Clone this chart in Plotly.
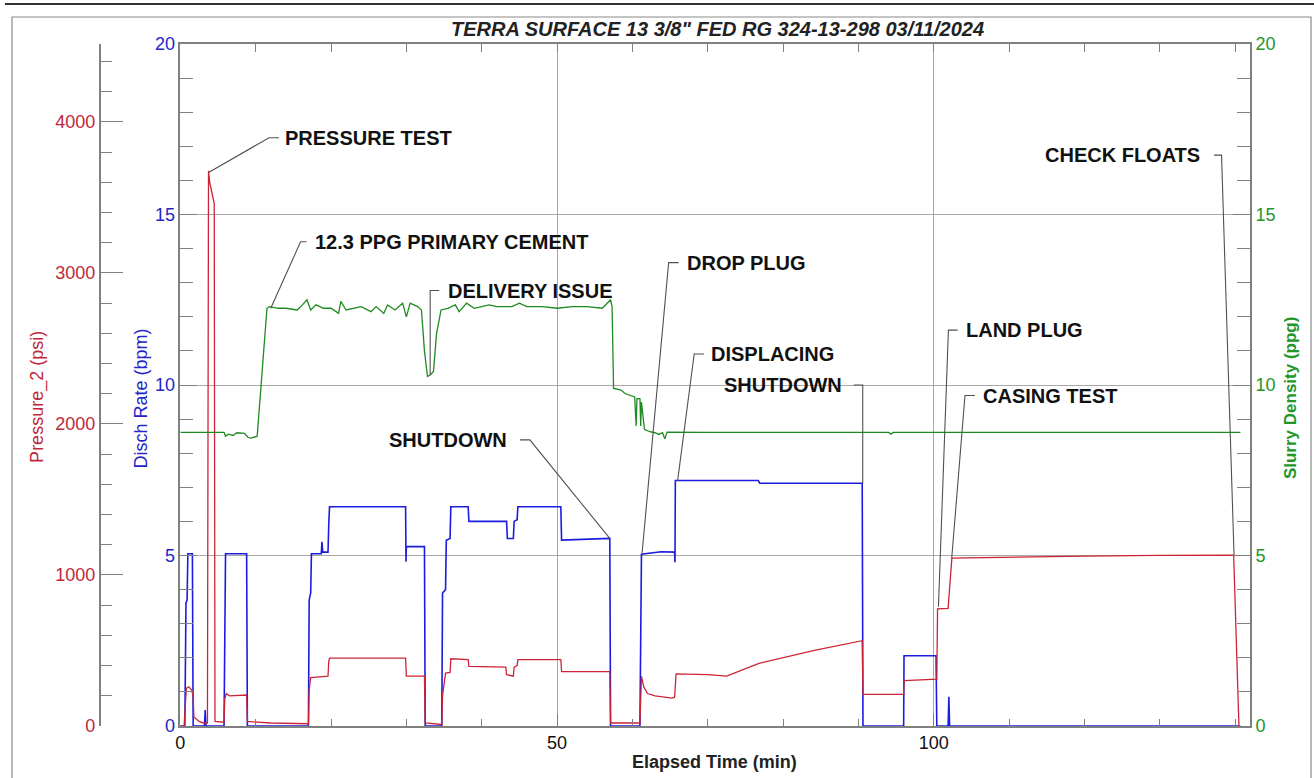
import plotly.graph_objects as go

# ---------------- data ----------------
rate_t = [0, 0.6, 0.75, 0.9, 1.0, 1.6, 1.7, 3.2, 3.3, 3.4, 5.8, 5.9, 6.0, 8.8, 8.9,
          17.0, 17.1, 17.3, 17.4, 18.7, 18.8, 18.9, 19.6, 19.7, 19.8, 29.9, 29.95, 30.0,
          32.4, 32.5, 34.7, 34.8, 35.2, 35.3, 35.8, 35.9, 38.2, 38.3, 43.3, 43.4, 44.2,
          44.3, 44.7, 44.8, 50.5, 50.6, 57.0, 57.1, 61.0, 61.2, 63.8, 65.6, 65.65, 65.7,
          76.7, 76.9, 90.5, 90.6, 96.0, 96.05, 100.3, 100.4, 101.9, 102.0, 102.1, 140.7]
rate_v = [0, 0, 3.6, 3.7, 5.05, 5.05, 0, 0, 0.47, 0, 0, 4.9, 5.05, 5.05, 0,
          0, 3.7, 3.9, 5.05, 5.05, 5.4, 5.1, 5.1, 5.9, 6.43, 6.43, 4.82, 5.26,
          5.26, 0, 0, 3.9, 4.0, 5.45, 5.5, 6.43, 6.43, 6.0, 6.0, 5.5, 5.5,
          6.0, 6.05, 6.43, 6.43, 5.45, 5.5, 0, 0, 5.04, 5.11, 5.1, 4.8, 7.2,
          7.2, 7.12, 7.12, 0, 0, 2.06, 2.06, 0, 0, 0.86, 0, 0]

press_t = [0, 0.5, 0.8, 1.1, 1.5, 1.7, 1.8, 2.5, 3.3, 3.6, 3.74, 3.9, 4.4, 4.5, 4.6,
           5.8, 5.9, 6.1, 6.5, 8.8, 8.9, 12.0, 17.0, 17.1, 17.3, 19.6, 19.7, 19.8, 29.9,
           30.0, 32.4, 32.5, 34.7, 34.8, 35.2, 35.8, 35.9, 38.2, 38.3, 43.2, 43.3, 44.2,
           44.3, 44.7, 44.8, 50.5, 50.6, 57.0, 57.1, 61.0, 61.2, 61.5, 62.0, 63.0, 65.3,
           65.6, 65.8, 70.0, 72.5, 76.8, 84.3, 90.5, 90.6, 96.0, 96.05, 100.4, 100.5,
           101.9, 102.4, 110.0, 120.0, 130.0, 139.8, 140.5]
press_v = [0, 0, 250, 260, 240, 200, 60, 30, 15, 20, 3677, 3600, 3483, 3460, 30,
           25, 180, 215, 200, 205, 30, 20, 15, 240, 320, 330, 430, 450, 450,
           330, 330, 20, 10, 200, 350, 355, 445, 440, 395, 390, 340, 330,
           390, 400, 440, 440, 360, 360, 20, 20, 330, 260, 215, 200, 185,
           190, 345, 340, 330, 415, 503, 565, 210, 210, 300, 310, 775,
           779, 1111, 1118, 1125, 1130, 1132, 0]

dens_t = [0, 5.8, 6.0, 6.4, 7.0, 7.5, 8.5, 9.0, 9.4, 10.2, 11.5, 11.8, 13.0, 14.0,
          15.5, 16.0, 16.8, 17.3, 18.0, 19.0, 20.0, 21.0, 21.3, 22.0, 24.0, 25.3, 26.0,
          27.0, 27.5, 28.5, 29.5, 30.0, 30.5, 31.5, 32.0, 32.4, 32.8, 33.2, 33.6, 34.0,
          34.6, 35.5, 36.5, 37.0, 38.0, 39.0, 41.0, 42.0, 44.0, 45.0, 46.0, 48.0, 50.0,
          52.0, 54.0, 56.0, 57.1, 57.3, 57.5, 58.5, 59.0, 59.8, 60.3, 60.5, 60.6, 61.0,
          61.1, 61.2, 61.6, 62.3, 63.0, 63.5, 64.0, 64.3, 64.6, 70.0, 94.0, 94.3, 94.6,
          140.7]
dens_v = [8.61, 8.61, 8.5, 8.56, 8.52, 8.6, 8.58, 8.46, 8.44, 8.5, 12.25, 12.3, 12.25, 12.25,
          12.2, 12.3, 12.5, 12.2, 12.35, 12.25, 12.25, 12.1, 12.45, 12.2, 12.3, 12.15, 12.3,
          12.1, 12.35, 12.2, 12.4, 12.0, 12.4, 12.3, 12.2, 11.0, 10.25, 10.3, 10.4, 11.5,
          12.2, 12.25, 12.35, 12.15, 12.4, 12.25, 12.35, 12.3, 12.3, 12.4, 12.3, 12.3, 12.25,
          12.3, 12.3, 12.25, 12.5, 12.3, 9.9, 9.85, 9.75, 9.7, 9.65, 8.8, 9.6, 9.6,
          8.8, 9.5, 8.7, 8.63, 8.6, 8.55, 8.6, 8.42, 8.62, 8.61, 8.61, 8.56, 8.61,
          8.61]

# event labels: text, point (t, rate-units), elbow (t, rate-units), stub end t, text x, anchor
ev_text = ["PRESSURE TEST", "12.3 PPG PRIMARY CEMENT", "DELIVERY ISSUE", "SHUTDOWN",
           "DROP PLUG", "DISPLACING", "SHUTDOWN", "LAND PLUG", "CASING TEST", "CHECK FLOATS"]
ev_pt_t = [3.74, 12.0, 33.16, 57.0, 61.28, 66.0, 90.57, 100.62, 102.38, 139.85]
ev_pt_v = [16.23, 12.25, 10.29, 5.5, 5.06, 7.19, 7.12, 3.5, 4.92, 5.01]
ev_el_t = [11.77, 15.96, 33.16, 46.39, 64.81, 68.2, 90.57, 101.94, 104.14, 138.19]
ev_el_v = [17.25, 14.2, 12.77, 8.39, 13.59, 10.91, 10.0, 11.61, 9.69, 16.74]
ev_stub_t = [13.1, 16.75, 34.35, 45.07, 66.14, 69.5, 89.37, 103.17, 105.46, 137.2]
ev_txt_t = [14.2, 18.2, 35.8, 43.5, 67.46, 70.7, 87.9, 104.5, 106.75, 135.4]
ev_anchor = ["left", "left", "left", "right", "left", "left", "right", "left", "left", "right"]

# ---------------- figure ----------------
W, H = 1314, 778
PL, PR, PT, PB = 176, 1250, 44, 726  # plot area pixels


def px(x):
    return x / W


def py(y):
    return (PB - y) / (PB - PT)


RED = "#cc2436"
RED_T = "#c0283c"
BLUE = "#1c1ce0"
BLUE_T = "#2424c8"
GREEN = "#1f8a1f"
GREEN_T = "#22962a"
AX = "#808080"
GRID = "#a8a8a8"
FONT = "Liberation Sans, Arial, sans-serif"

fig = go.Figure()
fig.add_trace(go.Scatter(x=press_t, y=press_v, yaxis="y2", mode="lines",
                         line=dict(color=RED, width=1.3), name="Pressure_2"))
fig.add_trace(go.Scatter(x=rate_t, y=rate_v, yaxis="y", mode="lines",
                         line=dict(color=BLUE, width=1.6), name="Disch Rate"))
fig.add_trace(go.Scatter(x=dens_t, y=dens_v, yaxis="y3", mode="lines",
                         line=dict(color=GREEN, width=1.3), name="Slurry Density"))
# helper (invisible) trace so the top tick axis is drawn
fig.add_trace(go.Scatter(x=rate_t, y=rate_v, xaxis="x2", yaxis="y4", mode="lines",
                         line=dict(color="rgba(0,0,0,0)", width=1), hoverinfo="skip",
                         showlegend=False))

fig.update_layout(
    width=W, height=H,
    margin=dict(l=0, r=0, t=PT, b=H - PB),
    paper_bgcolor="white", plot_bgcolor="rgba(0,0,0,0)",
    showlegend=False,
    font=dict(family=FONT),
    xaxis=dict(domain=[px(PL), px(PR)], range=[0, 142], showline=True, linecolor=AX,
               linewidth=1.5, mirror=True, ticks="inside", ticklen=12, tickwidth=1,
               tickcolor=AX, dtick=50, tick0=0, showgrid=True, gridcolor=GRID, gridwidth=1,
               zeroline=False, tickfont=dict(family=FONT, size=18, color="#111"),
               minor=dict(dtick=10, ticklen=7, ticks="inside", tickcolor=AX, showgrid=False)),
    xaxis2=dict(domain=[px(PL), px(PR)], side="top", anchor="y4", range=[0, 142],
                showline=True, linecolor=AX, linewidth=1.5,
                ticks="inside", ticklen=8, tickwidth=1, tickcolor=AX, dtick=10, tick0=0,
                showticklabels=False, showgrid=False, zeroline=False),
    yaxis4=dict(domain=[0, 1], range=[0, 20], anchor="x2", overlaying="y", visible=False),
    yaxis=dict(range=[0, 20], side="left", anchor="x", showline=True, linecolor=AX,
               linewidth=1.5, ticks="inside", ticklen=17, tickcolor=AX, dtick=5,
               showgrid=True, gridcolor=GRID, gridwidth=1, zeroline=False,
               tickfont=dict(family=FONT, size=18, color=BLUE_T),
               minor=dict(dtick=1, ticklen=13, ticks="inside", tickcolor=AX, showgrid=False)),
    yaxis2=dict(range=[0, 4516], overlaying="y", anchor="free", position=px(95), side="left",
                showline=True, linecolor=AX, linewidth=1.5, ticks="inside", ticklen=23,
                tickcolor=AX, dtick=1000, showgrid=False, zeroline=False,
                tickfont=dict(family=FONT, size=18, color=RED_T),
                minor=dict(dtick=200, ticklen=12, ticks="inside", tickcolor=AX, showgrid=False)),
    yaxis3=dict(range=[0, 20], overlaying="y", anchor="x", side="right", showline=True,
                linecolor=AX, linewidth=1.5, ticks="inside", ticklen=17, tickcolor=AX,
                dtick=5, showgrid=False, zeroline=False,
                tickfont=dict(family=FONT, size=18, color=GREEN_T),
                minor=dict(dtick=1, ticklen=13, ticks="inside", tickcolor=AX, showgrid=False)),
)

shapes = []
annotations = []

# outer frame and top rule
shapes.append(dict(type="rect", xref="paper", yref="paper", x0=px(7), x1=px(1311),
                   y0=py(800), y1=py(17), line=dict(color="#8a8a8a", width=1.2)))
shapes.append(dict(type="line", xref="paper", yref="paper", x0=0, x1=1,
                   y0=py(4), y1=py(4), line=dict(color="#333", width=2)))

# event leader lines and labels
for i, txt in enumerate(ev_text):
    path = (f"M {ev_pt_t[i]},{ev_pt_v[i]} L {ev_el_t[i]},{ev_el_v[i]} "
            f"L {ev_stub_t[i]},{ev_el_v[i]}")
    shapes.append(dict(type="path", xref="x", yref="y", path=path,
                       line=dict(color="#505050", width=1.1)))
    annotations.append(dict(x=ev_txt_t[i], y=ev_el_v[i], xref="x", yref="y",
                            text=f"<b>{txt}</b>", showarrow=False, xanchor=ev_anchor[i],
                            xshift=-4 if ev_anchor[i] == "left" else 1,
                            yanchor="middle", font=dict(family=FONT, size=20, color="#111")))

# title and axis titles
annotations.append(dict(x=px(715), y=py(29), xref="paper", yref="paper",
                        text="<b><i>TERRA SURFACE 13 3/8\" FED RG 324-13-298 03/11/2024</i></b>",
                        showarrow=False, xanchor="center", yanchor="middle",
                        font=dict(family=FONT, size=20, color="#222")))
annotations.append(dict(x=px(32), y=py(397), xref="paper", yref="paper", text="Pressure_2 (psi)",
                        textangle=-90, showarrow=False, xanchor="center", yanchor="middle",
                        font=dict(family=FONT, size=18, color=RED_T)))
annotations.append(dict(x=px(137), y=py(398), xref="paper", yref="paper", text="Disch Rate (bpm)",
                        textangle=-90, showarrow=False, xanchor="center", yanchor="middle",
                        font=dict(family=FONT, size=18, color=BLUE_T)))
annotations.append(dict(x=px(1290), y=py(398), xref="paper", yref="paper",
                        text="<b>Slurry Density (ppg)</b>", textangle=-90, showarrow=False,
                        xanchor="center", yanchor="middle",
                        font=dict(family=FONT, size=17, color=GREEN_T)))
annotations.append(dict(x=px(712), y=py(762), xref="paper", yref="paper",
                        text="<b>Elapsed Time (min)</b>", showarrow=False, xanchor="center",
                        yanchor="middle", font=dict(family=FONT, size=18, color="#222")))

fig.update_layout(shapes=shapes, annotations=annotations)
fig.write_html("out.html", config={"displayModeBar": False},
               post_script="document.body.style.margin='0';document.body.style.overflow='hidden';")
